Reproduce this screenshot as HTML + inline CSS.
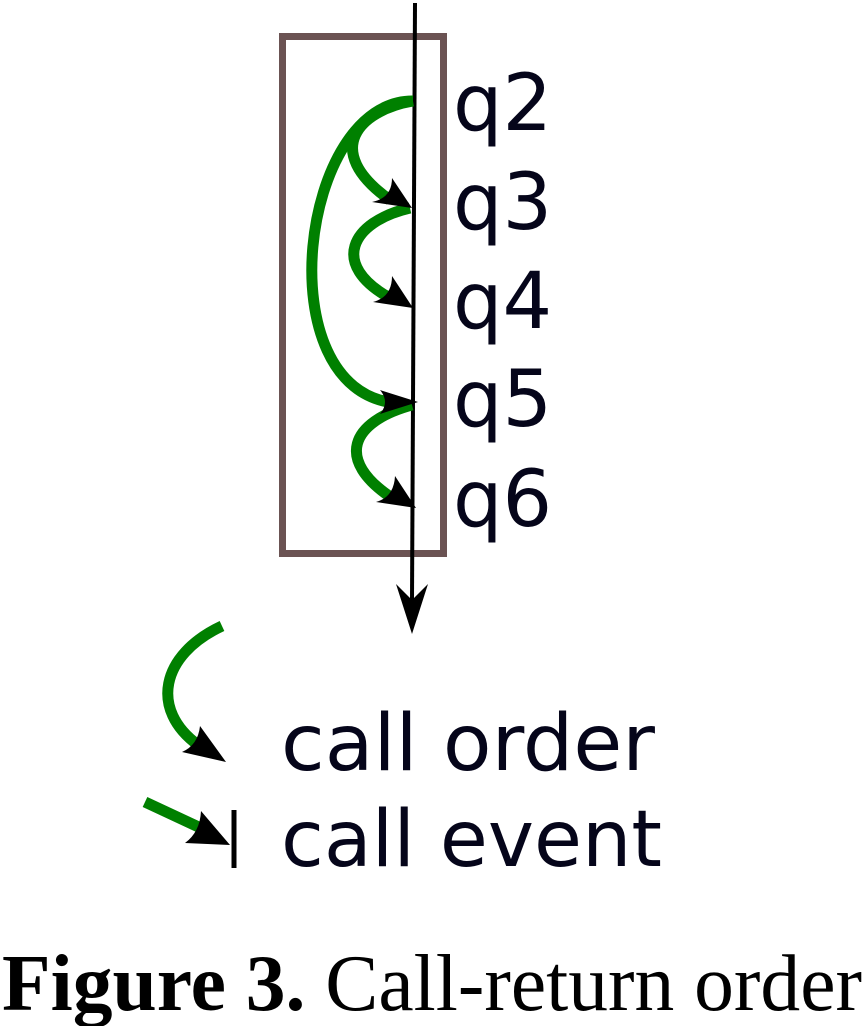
<!DOCTYPE html>
<html><head><meta charset="utf-8"><style>
html,body{margin:0;padding:0;background:#fff;width:864px;height:1026px;overflow:hidden}
svg{display:block}
.lbl{font-family:"DejaVu Sans","Liberation Sans",sans-serif;font-size:78px;fill:#05051a}
.cap{font-family:"Liberation Serif","Times New Roman",serif;font-size:80px;fill:#000}
</style></head><body>
<svg width="864" height="1026" viewBox="0 0 864 1026">
<rect x="282.5" y="36.5" width="161" height="517" fill="none" stroke="#6b5353" stroke-width="7"/>
<line x1="415" y1="3" x2="412" y2="600" stroke="#000" stroke-width="4"/>
<path d="M396,584 L412,634 L428,584 L412,600 Z" fill="#000"/>
<g fill="none" stroke="#008000" stroke-width="11">
<path d="M413,101 C300,100 265,390 395,403"/>
<path d="M413,101 C360,110 320,150 390,200"/>
<path d="M410,208 C350,222 330,265 390,298"/>
<path d="M412,405 C350,422 335,460 392,498"/>
</g>
<g fill="#000">
<path d="M392,178 L412,208 L372,202 Q392,198 392,178 Z"/>
<path d="M392,276 L413,308 L373,302 Q392,297 392,276 Z"/>
<path d="M380,390 L418,402 L380,414 Q390,402 380,390 Z"/>
<path d="M395,476 L416,508 L376,502 Q394,497 395,476 Z"/>
</g>
<text class="lbl" x="453" y="130">q2</text>
<text class="lbl" x="453" y="229">q3</text>
<text class="lbl" x="453" y="328">q4</text>
<text class="lbl" x="453" y="426">q5</text>
<text class="lbl" x="453" y="526">q6</text>
<g>
<path d="M222,626 C160,655 150,710 198,745" fill="none" stroke="#008000" stroke-width="11"/>
<path d="M200,726 L226,762 L182,752 Q198,745 200,726 Z" fill="#000"/>
<text class="lbl" x="281" y="770" textLength="374" lengthAdjust="spacingAndGlyphs">call order</text>
<line x1="145" y1="802" x2="205" y2="830" stroke="#008000" stroke-width="11"/>
<path d="M201,811 L230,845 L185,843 Q200,832 201,811 Z" fill="#000"/>
<line x1="234" y1="810" x2="234" y2="868" stroke="#000" stroke-width="5"/>
<text class="lbl" x="281" y="866" textLength="381" lengthAdjust="spacingAndGlyphs">call event</text>
</g>
<text class="cap" x="2" y="1010" textLength="860" lengthAdjust="spacingAndGlyphs"><tspan font-weight="bold">Figure 3.</tspan> Call-return order</text>
</svg>
</body></html>
